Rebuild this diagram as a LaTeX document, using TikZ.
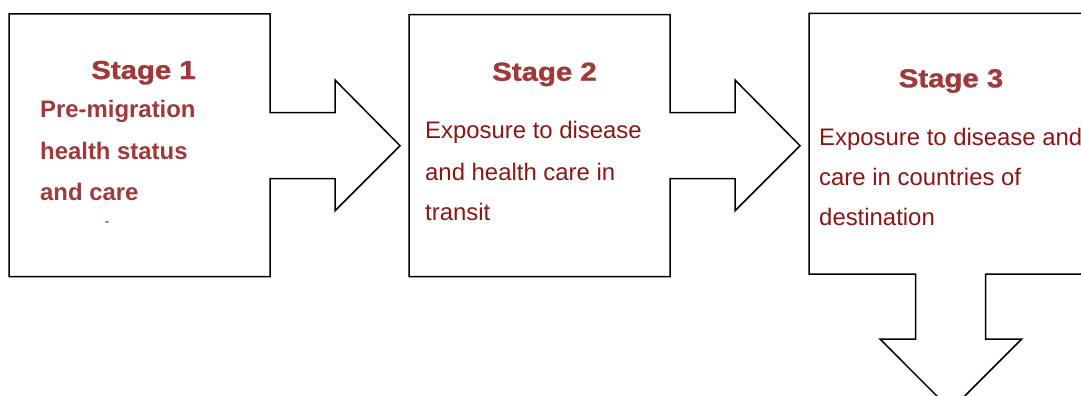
\documentclass[tikz,border=0pt]{standalone}
\usepackage{fontspec}
\setmainfont{Liberation Sans}
\newfontfamily\heavyfont{Liberation Sans Bold}[FakeBold=1.2]
\usepackage{graphicx}
\definecolor{headred}{RGB}{158,58,58}
\definecolor{bodyred}{RGB}{140,22,22}
\tikzset{
  flowshape/.style={draw=black, line width=1.5pt, line join=miter, fill=white},
  stagehead/.style={anchor=base, inner sep=0pt, text=headred, font=\fontsize{26}{30}\selectfont\heavyfont},
  boldline/.style={anchor=base west, inner sep=0pt, text=headred, font=\fontsize{23.9}{28}\selectfont\bfseries},
  plainline/.style={anchor=base west, inner sep=0pt, text=bodyred, font=\fontsize{23.9}{28}\selectfont},
}
\begin{document}
\begin{tikzpicture}[x=1pt,y=-1pt]
\useasboundingbox (0,0) rectangle (1081,396);
\clip (0,0) rectangle (1081,396);
% Stage 1 box with arrow
\draw[flowshape] (9,14) -- (270,14) -- (270,112.7) -- (335,112.7) -- (335,80) -- (400,145.7)
  -- (335,210.7) -- (335,178.7) -- (270,178.7) -- (270,276.7) -- (9,276.7) -- cycle;
% Stage 2 box with arrow
\draw[flowshape] (409,14.7) -- (670,14.7) -- (670,112.7) -- (735,112.7) -- (735,80) -- (800,145.7)
  -- (735,210.7) -- (735,178.7) -- (670,178.7) -- (670,276.7) -- (409,276.7) -- cycle;
% Stage 3 box with downward arrow
\draw[flowshape] (809,13.3) -- (1095,13.3) -- (1095,274) -- (985.7,274) -- (985.7,339) -- (1021.7,339)
  -- (950.8,410) -- (880,339) -- (915.7,339) -- (915.7,274) -- (809,274) -- cycle;

\node[stagehead] (h1) at (143.5,79) {\scalebox{1.13}[1]{Stage 1}};
\node[stagehead] (h2) at (544.5,80.7) {\scalebox{1.13}[1]{Stage 2}};
\node[stagehead] (h3) at (951,87.3) {\scalebox{1.13}[1]{Stage 3}};

\node[boldline] (a1) at (40,117.5) {Pre-migration};
\node[boldline] (a2) at (40,159) {health status};
\node[boldline] (a3) at (40,200) {and care};
\node[inner sep=0pt, text=headred, font=\fontsize{12}{14}\selectfont\bfseries] (a4) at (107,223.5) {-};

\node[plainline] (b1) at (425,138) {Exposure to disease};
\node[plainline] (b2) at (425,180) {and health care in};
\node[plainline] (b3) at (425,220.5) {transit};

\node[plainline] (c1) at (819,145.7) {Exposure to disease and};
\node[plainline] (c2) at (819,185) {care in countries of};
\node[plainline] (c3) at (819,225.5) {destination};
\end{tikzpicture}
\end{document}
